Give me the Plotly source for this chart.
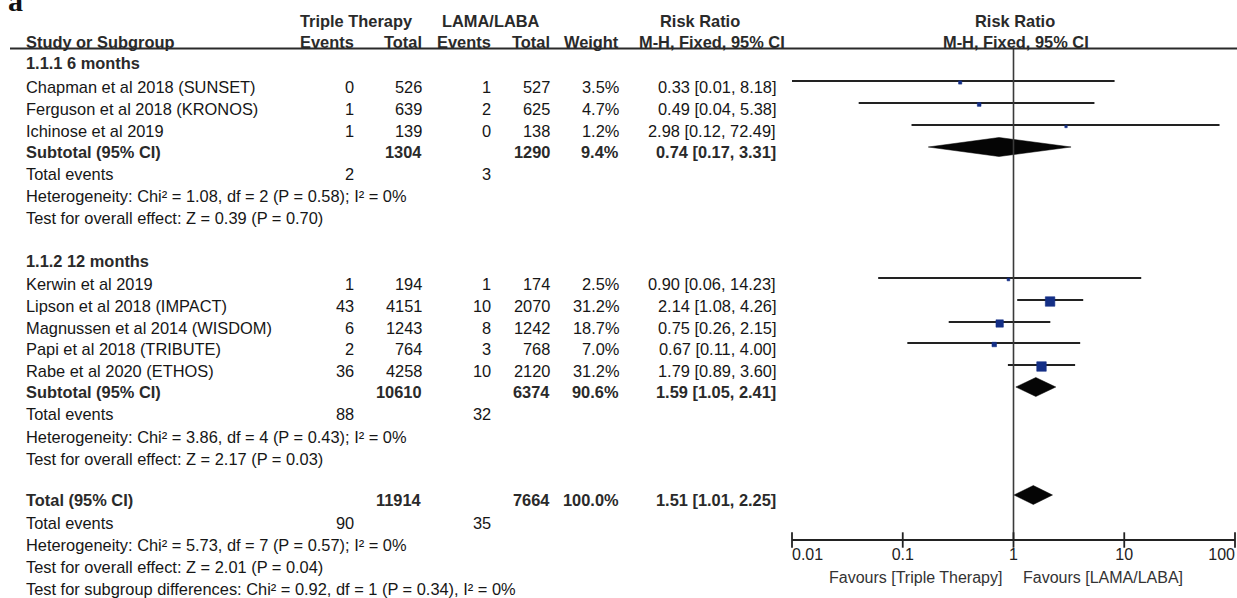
import plotly.graph_objects as go

W, H = 1237, 598

# ---- study-level data -------------------------------------------------
studies = [
    "Chapman et al 2018 (SUNSET)",
    "Ferguson et al 2018 (KRONOS)",
    "Ichinose et al 2019",
    "Kerwin et al 2019",
    "Lipson et al 2018 (IMPACT)",
    "Magnussen et al 2014 (WISDOM)",
    "Papi et al 2018 (TRIBUTE)",
    "Rabe et al 2020 (ETHOS)",
]
tt_events = [0, 1, 1, 1, 43, 6, 2, 36]
tt_total = [526, 639, 139, 194, 4151, 1243, 764, 4258]
ll_events = [1, 2, 0, 1, 10, 8, 3, 10]
ll_total = [527, 625, 138, 174, 2070, 1242, 768, 2120]
weight = [3.5, 4.7, 1.2, 2.5, 31.2, 18.7, 7.0, 31.2]
rr = [0.33, 0.49, 2.98, 0.90, 2.14, 0.75, 0.67, 1.79]
rr_lo = [0.01, 0.04, 0.12, 0.06, 1.08, 0.26, 0.11, 0.89]
rr_hi = [8.18, 5.38, 72.49, 14.23, 4.26, 2.15, 4.00, 3.60]

# ---- pooled estimates (subgroup 1, subgroup 2, overall) ---------------
pooled_labels = ["Subtotal (95% CI)", "Subtotal (95% CI)", "Total (95% CI)"]
pooled_tt_total = [1304, 10610, 11914]
pooled_ll_total = [1290, 6374, 7664]
pooled_weight = [9.4, 90.6, 100.0]
pooled_rr = [0.74, 1.59, 1.51]
pooled_lo = [0.17, 1.05, 1.01]
pooled_hi = [3.31, 2.41, 2.25]
pooled_tt_events = [2, 88, 90]
pooled_ll_events = [3, 32, 35]
heterogeneity = [
    "Heterogeneity: Chi² = 1.08, df = 2 (P = 0.58); I² = 0%",
    "Heterogeneity: Chi² = 3.86, df = 4 (P = 0.43); I² = 0%",
    "Heterogeneity: Chi² = 5.73, df = 7 (P = 0.57); I² = 0%",
]
overall_effect = [
    "Test for overall effect: Z = 0.39 (P = 0.70)",
    "Test for overall effect: Z = 2.17 (P = 0.03)",
    "Test for overall effect: Z = 2.01 (P = 0.04)",
]
subgroup_titles = ["1.1.1 6 months", "1.1.2 12 months"]
subgroup_diff = "Test for subgroup differences: Chi² = 0.92, df = 1 (P = 0.34), I² = 0%"

axis_ticks = [0.01, 0.1, 1, 10, 100]
axis_tick_text = ["0.01", "0.1", "1", "10", "100"]

# ---- layout constants (pixel rows / columns) --------------------------
FONT = "Liberation Sans, Arial, sans-serif"
FS = 16.4
TXT = "#161616"
BOLD = "#2a2a2a"
BLUE = "#142f86"

study_rows = [87, 109, 131, 284, 306, 328, 349, 371]
pooled_rows = [152, 392, 500]
events_rows = [174, 414, 523]
het_rows = [196, 437, 545]
effect_rows = [218, 459, 567]
title_rows = [63, 261]
subgroup_diff_row = 589

X_LABEL = 25
X_TT_EV, X_TT_TOT = 355, 423
X_LL_EV, X_LL_TOT = 492, 551
X_WEIGHT, X_CI = 620, 777

MARK_DY = -6      # whiskers sit slightly above the text midline
DIAMOND_DY = -5
SQUARE_DY = 1.5
DIAMOND_HALF = 9.5
HEADER_LINE_Y = 48.5
AXIS_Y = 540

annotations = []


def txt(s, px, py, anchor="left", bold=False, size=FS, color=None):
    annotations.append(dict(
        text=f"<b>{s}</b>" if bold else s,
        x=px / W, xref="paper", y=py, yref="y",
        xanchor=anchor, yanchor="middle", showarrow=False, borderpad=0,
        font=dict(family=FONT, size=size, color=color or (BOLD if bold else TXT)),
    ))


# header
txt("Triple Therapy", 356, 21, "center", True)
txt("LAMA/LABA", 490.5, 21, "center", True)
txt("Risk Ratio", 700, 21, "center", True)
txt("Risk Ratio", 1015, 21, "center", True)
txt("Study or Subgroup", X_LABEL, 42, "left", True)
txt("Events", X_TT_EV, 42, "right", True)
txt("Total", X_TT_TOT, 42, "right", True)
txt("Events", X_LL_EV, 42, "right", True)
txt("Total", X_LL_TOT, 42, "right", True)
txt("Weight", X_WEIGHT, 42, "right", True)
txt("M-H, Fixed, 95% CI", 786, 42, "right", True)
txt("M-H, Fixed, 95% CI", 1016, 42, "center", True)

# panel tag, partly above the top edge
annotations.append(dict(
    text="<b>a</b>", x=7 / W, xref="paper", y=1.0, yref="paper",
    xanchor="left", yanchor="middle", showarrow=False, borderpad=0,
    font=dict(family="Liberation Serif, Times New Roman, serif", size=30, color="#111"),
))

# subgroup titles
for t, y in zip(subgroup_titles, title_rows):
    txt(t, X_LABEL, y, "left", True)

# study rows
for i, name in enumerate(studies):
    y = study_rows[i]
    txt(name, X_LABEL, y)
    txt(str(tt_events[i]), X_TT_EV, y, "right")
    txt(str(tt_total[i]), X_TT_TOT, y, "right")
    txt(str(ll_events[i]), X_LL_EV, y, "right")
    txt(str(ll_total[i]), X_LL_TOT, y, "right")
    txt(f"{weight[i]:.1f}%", X_WEIGHT, y, "right")
    txt(f"{rr[i]:.2f} [{rr_lo[i]:.2f}, {rr_hi[i]:.2f}]", X_CI, y, "right")

# pooled rows and summary statistics
for k in range(3):
    y = pooled_rows[k]
    txt(pooled_labels[k], X_LABEL, y, "left", True)
    txt(str(pooled_tt_total[k]), X_TT_TOT, y, "right", True)
    txt(str(pooled_ll_total[k]), X_LL_TOT, y, "right", True)
    txt(f"{pooled_weight[k]:.1f}%", X_WEIGHT, y, "right", True)
    txt(f"{pooled_rr[k]:.2f} [{pooled_lo[k]:.2f}, {pooled_hi[k]:.2f}]", X_CI, y, "right", True)
    txt("Total events", X_LABEL, events_rows[k])
    txt(str(pooled_tt_events[k]), X_TT_EV, events_rows[k], "right")
    txt(str(pooled_ll_events[k]), X_LL_EV, events_rows[k], "right")
    txt(heterogeneity[k], X_LABEL, het_rows[k])
    txt(overall_effect[k], X_LABEL, effect_rows[k])
txt(subgroup_diff, X_LABEL, subgroup_diff_row)

# favours labels under the axis
txt("Favours [Triple Therapy]", 1003, 577, "right", size=16, color="#333")
txt("Favours [LAMA/LABA]", 1022, 577, "left", size=16, color="#333")

fig = go.Figure()

# confidence-interval whiskers
cx, cy = [], []
for i in range(len(studies)):
    y = study_rows[i] + MARK_DY
    cx += [rr_lo[i], rr_hi[i], None]
    cy += [y, y, None]
fig.add_trace(go.Scatter(x=cx, y=cy, mode="lines",
                         line=dict(color="#222222", width=1.8), hoverinfo="skip"))

# point estimates, square area proportional to weight
fig.add_trace(go.Scatter(
    x=rr, y=[y + MARK_DY + SQUARE_DY for y in study_rows], mode="markers",
    marker=dict(symbol="square", color=BLUE, opacity=1,
                size=[max(2.4, 1.7 * w ** 0.5) for w in weight],
                line=dict(width=0.6, color=BLUE)),
    cliponaxis=False, hoverinfo="skip"))

# pooled diamonds
for k in range(3):
    yc = pooled_rows[k] + DIAMOND_DY
    fig.add_trace(go.Scatter(
        x=[pooled_lo[k], pooled_rr[k], pooled_hi[k], pooled_rr[k], pooled_lo[k]],
        y=[yc, yc - DIAMOND_HALF, yc, yc + DIAMOND_HALF, yc],
        mode="lines", fill="toself", fillcolor="#050505",
        line=dict(color="#050505", width=0.5), hoverinfo="skip"))

# line of no effect
fig.add_trace(go.Scatter(x=[1, 1], y=[HEADER_LINE_Y, AXIS_Y], mode="lines",
                         line=dict(color="#3a3a3a", width=1.6), hoverinfo="skip"))

# horizontal log axis with ticks crossing the line
fig.add_trace(go.Scatter(x=[axis_ticks[0], axis_ticks[-1]], y=[AXIS_Y, AXIS_Y], mode="lines",
                         line=dict(color="#222", width=1.8), hoverinfo="skip"))
fig.add_trace(go.Scatter(x=axis_ticks, y=[AXIS_Y] * len(axis_ticks), mode="markers",
                         marker=dict(symbol="line-ns", size=11, line=dict(color="#222", width=1.8)),
                         cliponaxis=False, hoverinfo="skip"))
positions = ["middle right"] + ["middle center"] * (len(axis_ticks) - 2) + ["middle left"]
fig.add_trace(go.Scatter(x=axis_ticks, y=[556] * len(axis_ticks), mode="text",
                         text=axis_tick_text, textposition=positions,
                         textfont=dict(family=FONT, size=16, color="#222"),
                         cliponaxis=False, hoverinfo="skip"))

fig.update_layout(
    width=W, height=H, margin=dict(l=0, r=0, t=0, b=0),
    paper_bgcolor="white", plot_bgcolor="white", showlegend=False,
    xaxis=dict(type="log", range=[-2, 2], domain=[792 / W, 1235 / W], visible=False),
    yaxis=dict(range=[H, 0], domain=[0, 1], visible=False),
    annotations=annotations,
    shapes=[dict(type="line", xref="paper", yref="y", x0=10 / W, x1=1,
                 y0=HEADER_LINE_Y, y1=HEADER_LINE_Y, line=dict(color="#2a2a2a", width=1.8))],
)

fig.write_html("out.html", config={"displayModeBar": False})
